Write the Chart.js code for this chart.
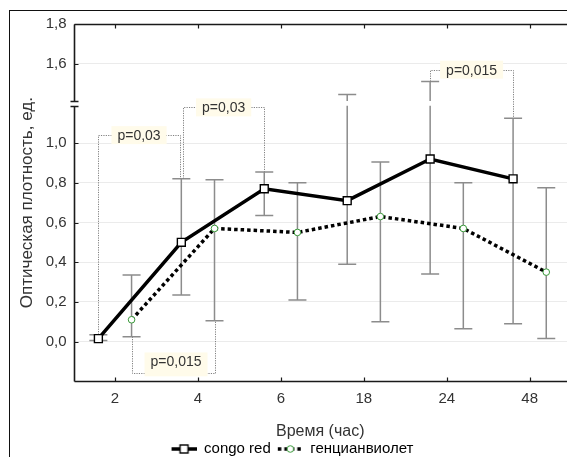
<!DOCTYPE html>
<html>
<head>
<meta charset="utf-8">
<script src="https://cdn.jsdelivr.net/npm/chart.js@4.4.1/dist/chart.umd.min.js"></script>
<style>
  html, body { margin: 0; padding: 0; background: #fff; }
  canvas { display: block; }
</style>
</head>
<body>
<canvas id="chart" width="567" height="457"></canvas>
<script>
// Time points (hours)
const hours = ['2', '4', '6', '18', '24', '48'];

// congo red: mean optical density and error-bar limits
const congoMean = [0.015, 0.50, 0.77, 0.71, 0.92, 0.82];
const congoLow  = [0.005, 0.235, 0.635, 0.39, 0.34, 0.09];
const congoHigh = [0.035, 0.82, 0.855, 1.445, 1.51, 1.125];

// генцианвиолет: mean optical density and error-bar limits
const gencMean = [0.11, 0.57, 0.55, 0.63, 0.57, 0.35];
const gencLow  = [0.025, 0.105, 0.21, 0.10, 0.065, 0.015];
const gencHigh = [0.335, 0.815, 0.80, 0.905, 0.80, 0.775];

// Y tick values (real units)
const yTickValues = [0, 0.2, 0.4, 0.6, 0.8, 1.0, 1.6, 1.8];

// Significance labels
const pLabels = ['p=0,03', 'p=0,03', 'p=0,015', 'p=0,015'];

const FONT = '"Liberation Sans", Arial, sans-serif';

// The value axis has a break: the range 1.2 … 1.4 is cut out.
const Y_BREAK_LO = 1.2, Y_BREAK_HI = 1.4;
const GAP = Y_BREAK_HI - Y_BREAK_LO;
const toAxis = v => v <= Y_BREAK_LO ? v : (v >= Y_BREAK_HI ? v - GAP : Y_BREAK_LO);
const fromAxis = a => a <= Y_BREAK_LO + 1e-9 ? a : a + GAP;

// Horizontal shift of each series from its category centre
const SERIES_SHIFT = [-0.2, 0.2];

const series = [
  { label: 'congo red', mean: congoMean, low: congoLow, high: congoHigh },
  { label: 'генцианвиолет', mean: gencMean, low: gencLow, high: gencHigh }
];

// Brackets joining compared points: series, two time indices, which end of the
// error bar they start from, and the level (real units) of the connecting line.
const brackets = [
  { series: 0, a: 0, b: 1, end: 'high', level: 1.04, text: pLabels[0], shiftB: -0.02 },
  { series: 0, a: 1, b: 2, end: 'high', level: 1.18, text: pLabels[1], shiftA: 0.02 },
  { series: 1, a: 0, b: 1, end: 'low', level: -0.16, textLevel: -0.10, text: pLabels[2] },
  { series: 0, a: 4, b: 5, end: 'high', level: 1.57, text: pLabels[3] }
];

// Legend symbols: a short line segment with the series marker
function legendIcon(kind) {
  const c = document.createElement('canvas');
  c.width = 32; c.height = 14;
  const g = c.getContext('2d');
  const x0 = 7, x1 = 32, cy = 7, cx = (x0 + x1) / 2;
  g.strokeStyle = '#000';
  g.lineWidth = 3.5;
  if (kind === 1) g.setLineDash([3.5, 3]);
  g.beginPath(); g.moveTo(x0, cy); g.lineTo(x1, cy); g.stroke();
  g.setLineDash([]);
  if (kind === 0) {
    g.fillStyle = '#fff'; g.lineWidth = 1.4;
    g.fillRect(cx - 4, cy - 4, 8, 8); g.strokeRect(cx - 4, cy - 4, 8, 8);
  } else {
    g.fillStyle = '#fff'; g.strokeStyle = '#3a9a3a'; g.lineWidth = 1;
    g.beginPath(); g.arc(cx, cy, 3.3, 0, Math.PI * 2); g.fill(); g.stroke();
  }
  return c;
}
const icons = [legendIcon(0), legendIcon(1)];

const datasets = series.map((s, k) => ({
  label: s.label,
  data: s.mean.map((v, i) => ({ x: i + SERIES_SHIFT[k], y: toAxis(v) })),
  errLow: s.low,
  errHigh: s.high,
  borderColor: '#000',
  borderWidth: 3.5,
  borderDash: k === 1 ? [3.5, 3] : [],
  pointStyle: k === 0 ? 'rect' : 'circle',
  pointRadius: k === 0 ? 5.6 : 3.3,
  pointBackgroundColor: '#fff',
  pointBorderColor: k === 0 ? '#000' : '#3a9a3a',
  pointBorderWidth: k === 0 ? 1.4 : 1,
  tension: 0,
  fill: false
}));

// White page and the outer frame
const framePlugin = {
  id: 'outerFrame',
  beforeDraw(chart) {
    const ctx = chart.ctx;
    ctx.save();
    ctx.fillStyle = '#fff';
    ctx.fillRect(0, 0, chart.width, chart.height);
    ctx.strokeStyle = '#111';
    ctx.lineWidth = 1;
    ctx.strokeRect(9.5, 10.5, 800, 800);
    ctx.restore();
  }
};

// Vertical error bars with caps; a gap is left where a bar crosses the axis break
const errorBarPlugin = {
  id: 'errorBars',
  beforeDatasetsDraw(chart) {
    const { ctx, scales: { x, y } } = chart;
    const breakTop = y.getPixelForValue(Y_BREAK_LO + 0.012);
    const breakBot = y.getPixelForValue(Y_BREAK_LO - 0.012);
    ctx.save();
    ctx.strokeStyle = '#8c8c8c';
    ctx.lineWidth = 1.5;
    chart.data.datasets.forEach((ds, k) => {
      ds.errLow.forEach((lo, i) => {
        const px = x.getPixelForValue(i + SERIES_SHIFT[k]);
        const yLo = y.getPixelForValue(toAxis(lo));
        const yHi = y.getPixelForValue(toAxis(ds.errHigh[i]));
        ctx.beginPath();
        if (yHi < breakTop && yLo > breakBot) {
          ctx.moveTo(px, yLo); ctx.lineTo(px, breakBot);
          ctx.moveTo(px, breakTop); ctx.lineTo(px, yHi);
        } else {
          ctx.moveTo(px, yLo); ctx.lineTo(px, yHi);
        }
        ctx.moveTo(px - 9, yLo); ctx.lineTo(px + 9, yLo);
        ctx.moveTo(px - 9, yHi); ctx.lineTo(px + 9, yHi);
        ctx.stroke();
      });
    });
    ctx.restore();
  }
};

// Dotted brackets with p-value labels
const bracketPlugin = {
  id: 'brackets',
  beforeDatasetsDraw(chart) {
    const { ctx, scales: { x, y } } = chart;
    const ds = chart.data.datasets;
    ctx.save();
    ctx.font = '14px ' + FONT;
    brackets.forEach(b => {
      const sh = SERIES_SHIFT[b.series];
      const d = ds[b.series];
      const arr = b.end === 'high' ? d.errHigh : d.errLow;
      const xA = x.getPixelForValue(b.a + sh + (b.shiftA || 0));
      const xB = x.getPixelForValue(b.b + sh + (b.shiftB || 0));
      const yA = y.getPixelForValue(toAxis(arr[b.a]));
      const yB = y.getPixelForValue(toAxis(arr[b.b]));
      const yL = y.getPixelForValue(toAxis(b.level));
      ctx.strokeStyle = '#808080';
      ctx.lineWidth = 1;
      ctx.setLineDash([1.2, 1.2]);
      ctx.beginPath();
      ctx.moveTo(Math.round(xA) + 0.5, yA);
      ctx.lineTo(Math.round(xA) + 0.5, Math.round(yL) + 0.5);
      ctx.lineTo(Math.round(xB) + 0.5, Math.round(yL) + 0.5);
      ctx.lineTo(Math.round(xB) + 0.5, yB);
      ctx.stroke();
      ctx.setLineDash([]);
      const yT = b.textLevel !== undefined ? y.getPixelForValue(toAxis(b.textLevel)) : yL;
      const xm = (xA + xB) / 2 + (b.textLevel !== undefined ? 3 : 0);
      const tw = ctx.measureText(b.text).width;
      let top = yT - 9, bottom = yT + 9;
      if (b.textLevel !== undefined) bottom = Math.max(bottom, yL + 3);
      ctx.fillStyle = '#fffbea';
      ctx.fillRect(xm - tw / 2 - 6, top, tw + 12, bottom - top);
      ctx.fillStyle = '#333';
      ctx.textAlign = 'center';
      ctx.textBaseline = 'middle';
      ctx.fillText(b.text, xm, yT + 1);
    });
    ctx.restore();
  }
};

// Plot frame, inward tick marks and the break marks on the value axis
const axesPlugin = {
  id: 'axesFrame',
  afterDraw(chart) {
    const { ctx, chartArea: a, scales: { x, y } } = chart;
    const L = Math.round(a.left) + 0.5;
    const T = Math.round(a.top) + 0.5;
    const B = Math.round(a.bottom) + 0.5;
    const breakTop = Math.round(y.getPixelForValue(Y_BREAK_LO + 0.012)) + 0.5;
    const breakBot = Math.round(y.getPixelForValue(Y_BREAK_LO - 0.012)) + 0.5;
    ctx.save();
    ctx.strokeStyle = '#1a1a1a';
    ctx.lineWidth = 1.6;
    ctx.beginPath();
    ctx.moveTo(L, T); ctx.lineTo(L, breakTop);
    ctx.moveTo(L, breakBot); ctx.lineTo(L, B);
    ctx.moveTo(L, T); ctx.lineTo(chart.width + 2, T);
    ctx.moveTo(L, B); ctx.lineTo(chart.width + 2, B);
    ctx.stroke();
    ctx.lineWidth = 1.5;
    ctx.beginPath();
    ctx.moveTo(L - 4, breakTop); ctx.lineTo(L + 4, breakTop);
    ctx.moveTo(L - 4, breakBot); ctx.lineTo(L + 4, breakBot);
    ctx.stroke();
    ctx.lineWidth = 1.2;
    ctx.beginPath();
    y.ticks.forEach(t => {
      const py = Math.round(y.getPixelForValue(t.value)) + 0.5;
      ctx.moveTo(L, py); ctx.lineTo(L + 4, py);
    });
    x.ticks.forEach(t => {
      const px = Math.round(x.getPixelForValue(t.value)) + 0.5;
      ctx.moveTo(px, B); ctx.lineTo(px, B - 4);
      ctx.moveTo(px, T); ctx.lineTo(px, T + 4);
    });
    ctx.stroke();
    ctx.restore();
  }
};

new Chart(document.getElementById('chart'), {
  type: 'line',
  data: { datasets },
  options: {
    responsive: false,
    animation: false,
    devicePixelRatio: 1,
    layout: { autoPadding: false, padding: { left: 11, right: 0, top: 24, bottom: -9.5 } },
    scales: {
      x: {
        type: 'linear',
        min: -0.5,
        max: 5.45,
        afterBuildTicks: s => { s.ticks = hours.map((h, i) => ({ value: i })); },
        afterFit: s => { s.paddingLeft = 0; s.paddingRight = 0; },
        ticks: {
          callback: v => hours[Math.round(v)],
          font: { family: FONT, size: 15 },
          color: '#333',
          padding: 1,
          maxRotation: 0,
          autoSkip: false
        },
        grid: { display: false },
        border: { display: false },
        title: {
          display: true,
          text: 'Время (час)',
          font: { family: FONT, size: 16 },
          color: '#333',
          padding: { top: 13, bottom: 0 }
        }
      },
      y: {
        type: 'linear',
        min: toAxis(-0.2),
        max: toAxis(1.8),
        afterBuildTicks: s => { s.ticks = yTickValues.map(v => ({ value: toAxis(v) })); },
        afterFit: s => { s.width = 62.5; },
        ticks: {
          callback: v => fromAxis(v).toFixed(1).replace('.', ','),
          font: { family: FONT, size: 15 },
          color: '#333',
          padding: 7,
          autoSkip: false
        },
        grid: { color: '#ebebeb', lineWidth: 1, drawTicks: false },
        border: { display: false },
        title: {
          display: true,
          text: 'Оптическая плотность, ед.',
          font: { family: FONT, size: 17 },
          color: '#333',
          padding: { top: 6, bottom: 0 }
        }
      }
    },
    plugins: {
      legend: {
        position: 'bottom',
        labels: {
          usePointStyle: true,
          pointStyleWidth: 32,
          padding: 0,
          font: { family: FONT, size: 15 },
          color: '#222',
          generateLabels: chart => chart.data.datasets.map((ds, i) => ({
            text: ds.label,
            pointStyle: icons[i],
            datasetIndex: i,
            fillStyle: 'transparent',
            strokeStyle: 'transparent',
            lineWidth: 0,
            hidden: false
          }))
        }
      },
      tooltip: { enabled: false }
    }
  },
  plugins: [framePlugin, errorBarPlugin, bracketPlugin, axesPlugin]
});
</script>
</body>
</html>
